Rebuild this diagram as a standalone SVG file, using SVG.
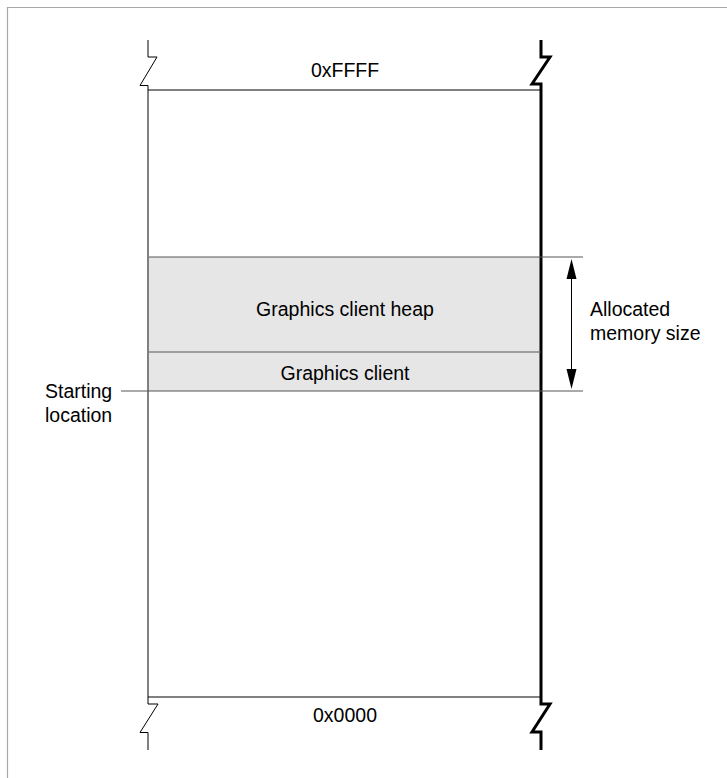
<svg xmlns="http://www.w3.org/2000/svg" width="727" height="778" viewBox="0 0 727 778">
<style>
text{font-family:"Liberation Sans",Arial,sans-serif;font-size:19.5px;fill:#000}
.thin{stroke:#000;stroke-width:1;fill:none}
.thick{stroke:#000;stroke-width:3;fill:none}
.sep{stroke:#555;stroke-width:1;fill:none}
.frame{stroke:#a8a8a8;stroke-width:1.2;fill:none}
.head{fill:#000}
</style>
<rect width="727" height="778" fill="#fff"/>
<path class="frame" d="M7.5,778 V7.5 H727"/>
<g id="memory">
<rect x="149" y="257" width="392" height="95" fill="#e6e6e6"/>
<rect x="149" y="352" width="392" height="39" fill="#e6e6e6"/>
<path class="thin" d="M148,40 V57 H157 L140,85.5 H148 V704 H158 L140,732.5 H148 V750"/>
<path class="thin" d="M148,90 H541"/>
<path class="thin" d="M148,697 H541"/>
<path class="thick" d="M541,40 V57 H550 L532,84 H541 V704 H550 L532,732 H541 V750"/>
</g>
<g id="heap">
<path class="sep" d="M149,257 H583"/>
<text x="345" y="316" text-anchor="middle">Graphics client heap</text>
</g>
<g id="client">
<path class="sep" d="M149,352 H541"/>
<text x="345" y="380" text-anchor="middle">Graphics client</text>
</g>
<g id="labels">
<text x="345" y="77" text-anchor="middle">0xFFFF</text>
<text x="345" y="722" text-anchor="middle">0x0000</text>
<text x="45" y="398">Starting</text>
<text x="45" y="422">location</text>
<text x="590" y="316">Allocated</text>
<text x="590" y="340">memory size</text>
</g>
<g id="connectors">
<path class="sep" d="M121,391 H583"/>
<path class="thin" d="M571.5,275 V375"/>
<polygon class="head" points="571.5,259 566.5,279 576.5,279"/>
<polygon class="head" points="571.5,389 566.5,369 576.5,369"/>
</g>
</svg>
